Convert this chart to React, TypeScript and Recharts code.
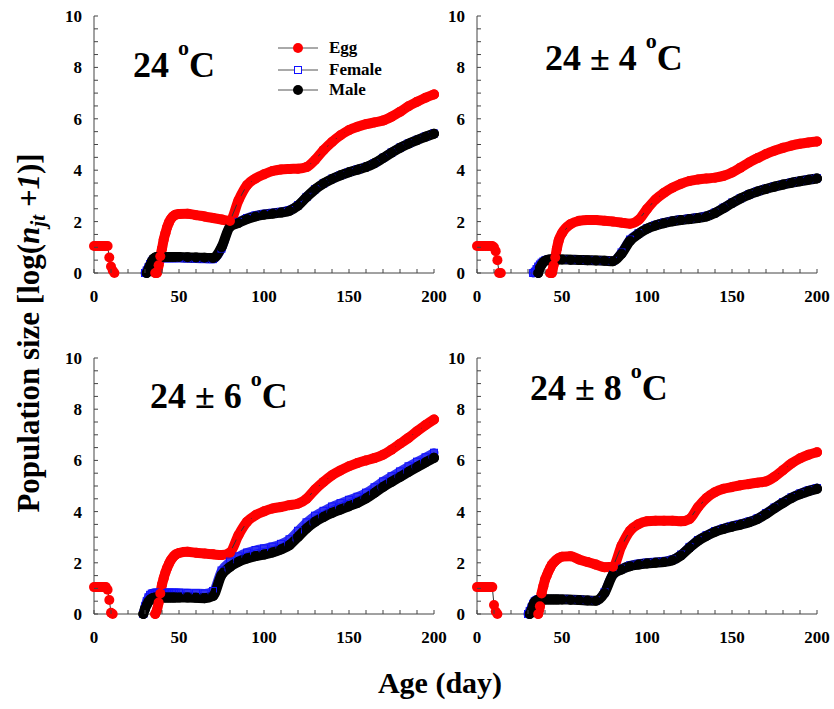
import { LineChart, Line, XAxis, YAxis, Legend } from "recharts";

const _ = null;

// sampling days: daily 0-14, daily 28-48, then every 5 days
const days = [
  0, 1, 2, 3, 4, 5, 6, 7, 8, 9, 10, 11, 12, 13, 14,
  28, 29, 30, 31, 32, 33, 34, 35, 36, 37, 38, 39, 40, 41, 42, 43, 44, 45, 46, 47, 48,
  50, 55, 60, 65, 70, 75, 80, 85, 90, 95, 100, 105, 110, 115, 120, 125, 130, 135, 140, 145, 150, 155, 160, 165, 170, 175, 180, 185, 190, 195, 200,
];

// 24 oC
const egg24 = [
  1.05, 1.05, 1.05, 1.05, 1.05, 1.05, 1.05, 1.05, 1.05, 0.6, 0.25, 0.1, 0, _, _,
  _, _, _, _, _, _, _, _, 0, 0, 0.3, 0.65, 0.95, 1.3, 1.55, 1.78, 1.95, 2.08, 2.17, 2.23, 2.27,
  2.3, 2.31, 2.25, 2.2, 2.14, 2.08, 2.02, 2.83, 3.42, 3.68, 3.84, 3.97, 4.03, 4.05, 4.06, 4.12, 4.4, 4.78, 5.1, 5.36, 5.56, 5.69, 5.79, 5.86, 5.93, 6.08, 6.27, 6.49, 6.66, 6.82, 6.95,
];
const female24 = [
  _, _, _, _, _, _, _, _, _, _, _, _, _, _, _,
  _, _, 0, 0.1, 0.22, 0.35, 0.45, 0.52, 0.56, 0.58, 0.58, 0.58, 0.58, 0.58, 0.58, 0.58, 0.58, 0.58, 0.58, 0.58, 0.58,
  0.58, 0.57, 0.56, 0.55, 0.54, 0.95, 1.83, 1.99, 2.14, 2.24, 2.3, 2.34, 2.38, 2.45, 2.64, 2.96, 3.26, 3.49, 3.67, 3.81, 3.93, 4.03, 4.13, 4.28, 4.48, 4.69, 4.88, 5.04, 5.18, 5.31, 5.43,
];
const male24 = [
  _, _, _, _, _, _, _, _, _, _, _, _, _, _, _,
  _, _, _, 0, 0.15, 0.3, 0.45, 0.55, 0.6, 0.62, 0.62, 0.62, 0.62, 0.62, 0.62, 0.62, 0.62, 0.62, 0.62, 0.62, 0.62,
  0.62, 0.61, 0.6, 0.59, 0.58, 1.0, 1.8, 1.95, 2.1, 2.2, 2.27, 2.31, 2.35, 2.42, 2.62, 2.95, 3.25, 3.48, 3.66, 3.8, 3.92, 4.02, 4.12, 4.27, 4.47, 4.68, 4.87, 5.03, 5.17, 5.3, 5.42,
];

// 24 ± 4 oC
const egg4 = [
  1.05, 1.05, 1.05, 1.05, 1.05, 1.05, 1.05, 1.05, 1.05, 1.05, 1.0, 0.85, 0.5, 0, 0,
  _, _, _, _, _, _, _, _, _, _, _, _, _, _, _, 0, 0, 0.3, 0.6, 0.95, 1.25,
  1.55, 1.9, 2.03, 2.06, 2.06, 2.03, 2.0, 1.96, 1.92, 2.06, 2.49, 2.86, 3.12, 3.32, 3.47, 3.58, 3.64, 3.68, 3.71, 3.78, 3.91, 4.1, 4.3, 4.47, 4.63, 4.76, 4.87, 4.96, 5.03, 5.08, 5.12,
];
const female4 = [
  _, _, _, _, _, _, _, _, _, _, _, _, _, _, _,
  _, _, _, _, _, 0, 0.05, 0.15, 0.25, 0.33, 0.4, 0.45, 0.49, 0.51, 0.52, 0.53, 0.53, 0.53, 0.53, 0.53, 0.53,
  0.53, 0.52, 0.51, 0.5, 0.49, 0.48, 0.47, 0.8, 1.3, 1.55, 1.74, 1.87, 1.96, 2.03, 2.08, 2.12, 2.16, 2.22, 2.35, 2.54, 2.74, 2.91, 3.06, 3.18, 3.28, 3.37, 3.45, 3.52, 3.58, 3.64, 3.69,
];
const male4 = [
  _, _, _, _, _, _, _, _, _, _, _, _, _, _, _,
  _, _, _, _, _, _, _, _, 0, 0.2, 0.32, 0.42, 0.47, 0.5, 0.52, 0.53, 0.53, 0.53, 0.53, 0.53, 0.53,
  0.53, 0.52, 0.51, 0.5, 0.49, 0.48, 0.46, 0.75, 1.25, 1.52, 1.72, 1.85, 1.94, 2.01, 2.06, 2.1, 2.14, 2.2, 2.33, 2.52, 2.72, 2.9, 3.05, 3.17, 3.27, 3.36, 3.44, 3.51, 3.57, 3.63, 3.68,
];

// 24 ± 6 oC
const egg6 = [
  1.05, 1.05, 1.05, 1.05, 1.05, 1.05, 1.05, 1.05, 0.95, 0.55, 0.05, 0, _, _, _,
  _, _, _, _, _, _, _, _, 0, 0.15, 0.45, 0.8, 1.15, 1.4, 1.62, 1.8, 1.95, 2.08, 2.18, 2.26, 2.32,
  2.38, 2.43, 2.39, 2.36, 2.33, 2.3, 2.4, 3.08, 3.6, 3.86, 4.01, 4.12, 4.18, 4.25, 4.31, 4.5, 4.86, 5.16, 5.42, 5.61, 5.77, 5.9, 6.0, 6.09, 6.22, 6.42, 6.65, 6.88, 7.14, 7.38, 7.6,
];
const female6 = [
  _, _, _, _, _, _, _, _, _, _, _, _, _, _, _,
  _, 0, 0.3, 0.5, 0.65, 0.75, 0.8, 0.82, 0.83, 0.83, 0.83, 0.83, 0.83, 0.83, 0.83, 0.83, 0.83, 0.83, 0.83, 0.83, 0.83,
  0.83, 0.82, 0.81, 0.8, 0.9, 1.7, 2.05, 2.25, 2.4, 2.5, 2.56, 2.63, 2.74, 2.92, 3.25, 3.58, 3.84, 4.03, 4.2, 4.33, 4.46, 4.58, 4.74, 4.95, 5.18, 5.38, 5.57, 5.77, 5.95, 6.12, 6.3,
];
const male6 = [
  _, _, _, _, _, _, _, _, _, _, _, _, _, _, _,
  _, 0, 0.2, 0.35, 0.48, 0.56, 0.61, 0.63, 0.64, 0.64, 0.64, 0.64, 0.64, 0.64, 0.64, 0.64, 0.64, 0.64, 0.64, 0.64, 0.64,
  0.64, 0.64, 0.63, 0.62, 0.7, 1.52, 1.84, 2.04, 2.17, 2.26, 2.32, 2.4, 2.52, 2.69, 3.01, 3.34, 3.6, 3.79, 3.95, 4.08, 4.21, 4.34, 4.51, 4.73, 4.96, 5.16, 5.35, 5.55, 5.74, 5.92, 6.1,
];

// 24 ± 8 oC
const egg8 = [
  1.05, 1.05, 1.05, 1.05, 1.05, 1.05, 1.05, 1.05, 1.05, 1.05, 0.35, 0.1, 0, _, _,
  _, _, _, _, _, _, _, _, 0, 0.3, 0.8, 1.08, 1.34, 1.5, 1.66, 1.8, 1.92, 2.0, 2.07, 2.13, 2.18,
  2.24, 2.26, 2.13, 2.03, 1.93, 1.83, 1.85, 2.66, 3.25, 3.51, 3.62, 3.64, 3.64, 3.64, 3.62, 3.71, 4.17, 4.53, 4.76, 4.89, 4.96, 5.03, 5.08, 5.13, 5.18, 5.36, 5.62, 5.88, 6.08, 6.22, 6.32,
];
const female8 = [
  _, _, _, _, _, _, _, _, _, _, _, _, _, _, _,
  _, _, 0, 0.12, 0.25, 0.4, 0.5, 0.55, 0.57, 0.58, 0.58, 0.58, 0.58, 0.58, 0.58, 0.58, 0.58, 0.58, 0.58, 0.58, 0.58,
  0.58, 0.57, 0.56, 0.54, 0.53, 0.85, 1.57, 1.77, 1.9, 1.96, 2.0, 2.03, 2.06, 2.13, 2.32, 2.62, 2.89, 3.08, 3.24, 3.35, 3.44, 3.52, 3.61, 3.74, 3.94, 4.16, 4.37, 4.56, 4.71, 4.83, 4.92,
];
const male8 = [
  _, _, _, _, _, _, _, _, _, _, _, _, _, _, _,
  _, _, _, 0, 0.15, 0.35, 0.48, 0.53, 0.56, 0.57, 0.57, 0.57, 0.57, 0.57, 0.57, 0.57, 0.57, 0.57, 0.57, 0.57, 0.57,
  0.57, 0.56, 0.55, 0.53, 0.52, 0.82, 1.54, 1.74, 1.87, 1.93, 1.97, 2.0, 2.03, 2.1, 2.29, 2.59, 2.86, 3.05, 3.21, 3.32, 3.41, 3.49, 3.58, 3.71, 3.91, 4.13, 4.34, 4.53, 4.68, 4.8, 4.89,
];

const xTicks = [0, 10, 20, 30, 40, 50, 60, 70, 80, 90, 100, 110, 120, 130, 140, 150, 160, 170, 180, 190, 200];
const yTicks = [0, 0.5, 1, 1.5, 2, 2.5, 3, 3.5, 4, 4.5, 5, 5.5, 6, 6.5, 7, 7.5, 8, 8.5, 9, 9.5, 10];
const seriesNames = ["Egg", "Female", "Male"];

const serif = '"Liberation Serif", "Times New Roman", Times, serif';
const axisColor = "#444";
const RED = "#ff0000";
const BLUE = "#1010ff";

const panels = [
  { egg: egg24, female: female24, male: male24, left: 40, top: 0, width: 420, mr: 26, mt: 16, h: 257, legend: true },
  { egg: egg4, female: female4, male: male4, left: 423, top: 0, width: 411, mr: 17, mt: 16, h: 257, legend: false },
  { egg: egg6, female: female6, male: male6, left: 40, top: 342, width: 420, mr: 26, mt: 16, h: 256, legend: false },
  { egg: egg8, female: female8, male: male8, left: 423, top: 342, width: 411, mr: 17, mt: 16, h: 256, legend: false },
];

const XTick = (props: any) => {
  const { x, y, payload } = props;
  const v = payload.value;
  return (
    <g>
      <line x1={x} x2={x} y1={y} y2={y - 4} stroke={axisColor} />
      {v % 50 === 0 && (
        <text x={x} y={y + 29} textAnchor="middle" fontFamily={serif} fontWeight="bold" fontSize={17} fill="#000">
          {v}
        </text>
      )}
    </g>
  );
};

const YTick = (props: any) => {
  const { x, y, payload } = props;
  const v = payload.value;
  return (
    <g>
      <line x1={x} x2={x + 4} y1={y} y2={y} stroke={axisColor} />
      {v % 2 === 0 && (
        <text x={x - 12} y={y + 6} textAnchor="end" fontFamily={serif} fontWeight="bold" fontSize={17} fill="#000">
          {v}
        </text>
      )}
    </g>
  );
};

const FemaleDot = (p: any) => {
  if (p.cx == null || p.cy == null || p.value == null) return <g key={`f-${p.index}`} />;
  return (
    <rect key={`f-${p.index}`} x={p.cx - 3.5} y={p.cy - 3.5} width={7} height={7} fill="none" stroke={BLUE} strokeWidth={1} />
  );
};

const LegendBox = () => (
  <svg width={120} height={66}>
    {seriesNames.map((name, i) => {
      const cy = [12, 34, 54][i];
      return (
        <g key={name}>
          <line x1={0} x2={40} y1={cy} y2={cy} stroke="#555" strokeWidth={1} />
          {i === 0 && <circle cx={20} cy={cy} r={5} fill={RED} />}
          {i === 1 && <rect x={16.5} y={cy - 3.5} width={7} height={7} fill="#fff" stroke={BLUE} />}
          {i === 2 && <circle cx={20} cy={cy} r={5} fill="#000" />}
          <text x={51} y={cy + 5} fontFamily={serif} fontWeight="bold" fontSize={17} fill="#000">
            {name}
          </text>
        </g>
      );
    })}
  </svg>
);

function Panel({ p }: { p: (typeof panels)[number] }) {
  const rows = days.map((d, i) => ({ day: d, egg: p.egg[i], female: p.female[i], male: p.male[i] }));
  const height = p.mt + p.h + 36;
  return (
    <div style={{ position: "absolute", left: p.left, top: p.top }}>
      <LineChart width={p.width} height={height} data={rows} margin={{ top: p.mt, right: p.mr, left: 0, bottom: 0 }}>
        <XAxis
          dataKey="day"
          type="number"
          domain={[0, 200]}
          ticks={xTicks}
          interval={0}
          tick={<XTick />}
          tickSize={0}
          tickMargin={0}
          tickLine={false}
          axisLine={{ stroke: axisColor }}
          height={36}
        />
        <YAxis
          type="number"
          domain={[0, 10]}
          ticks={yTicks}
          interval={0}
          tick={<YTick />}
          tickSize={0}
          tickMargin={0}
          tickLine={false}
          axisLine={{ stroke: axisColor }}
          width={54}
        />
        {p.legend && (
          <Legend
            layout="vertical"
            align="center"
            verticalAlign="middle"
            content={<LegendBox />}
            wrapperStyle={{ left: 238, top: 36, width: 120, height: 66 }}
          />
        )}
        <Line dataKey="female" type="monotone" stroke="#3434f0" strokeWidth={9} strokeLinecap="round" strokeLinejoin="round" dot={false} activeDot={false} isAnimationActive={false} legendType="none" />
        <Line dataKey="female" type="monotone" stroke={BLUE} strokeWidth={1} dot={FemaleDot} activeDot={false} isAnimationActive={false} />
        <Line dataKey="male" type="monotone" stroke="#000" strokeWidth={10} strokeLinecap="round" strokeLinejoin="round" dot={false} activeDot={false} isAnimationActive={false} legendType="none" />
        <Line dataKey="male" type="monotone" stroke="#000" strokeWidth={1} dot={{ r: 5, fill: "#000", stroke: "#000", strokeWidth: 0 }} activeDot={false} isAnimationActive={false} />
        <Line dataKey={(r: any) => (r.day >= 28 ? r.egg : null)} type="monotone" stroke={RED} strokeWidth={10} strokeLinecap="round" strokeLinejoin="round" dot={false} activeDot={false} isAnimationActive={false} legendType="none" />
        <Line dataKey="egg" type="linear" stroke="#333" strokeWidth={1} dot={{ r: 5, fill: RED, stroke: RED, strokeWidth: 0 }} activeDot={false} isAnimationActive={false} />
      </LineChart>
    </div>
  );
}

const titles = [
  { x: 133, y: 77, text: "24 " },
  { x: 545, y: 70, text: "24 ± 4 " },
  { x: 150, y: 408, text: "24 ± 6 " },
  { x: 530, y: 400, text: "24 ± 8 " },
];

export default function App() {
  return (
    <div style={{ position: "absolute", left: 0, top: 0, width: 834, height: 709, background: "#fff" }}>
      {panels.map((p, i) => (
        <Panel key={i} p={p} />
      ))}
      <svg width={834} height={709} style={{ position: "absolute", left: 0, top: 0, pointerEvents: "none" }}>
        {titles.map((t, i) => (
          <text key={i} x={t.x} y={t.y} fontFamily={serif} fontWeight="bold" fontSize={36} fill="#000">
            {t.text}
            <tspan dy={-22} fontSize={22}>o</tspan>
            <tspan dy={22}>C</tspan>
          </text>
        ))}
        <text transform="translate(39,333) rotate(-90)" textAnchor="middle" fontFamily={serif} fontWeight="bold" fontSize={31} fill="#000">
          {"Population size [log("}
          <tspan fontStyle="italic">n</tspan>
          <tspan fontStyle="italic" fontSize={21} dy={6}>jt</tspan>
          <tspan fontStyle="italic" dy={-6}>{" +1"}</tspan>
          {")]"}
        </text>
        <text x={440} y={693} textAnchor="middle" fontFamily={serif} fontWeight="bold" fontSize={30} fill="#000">
          Age (day)
        </text>
      </svg>
    </div>
  );
}
